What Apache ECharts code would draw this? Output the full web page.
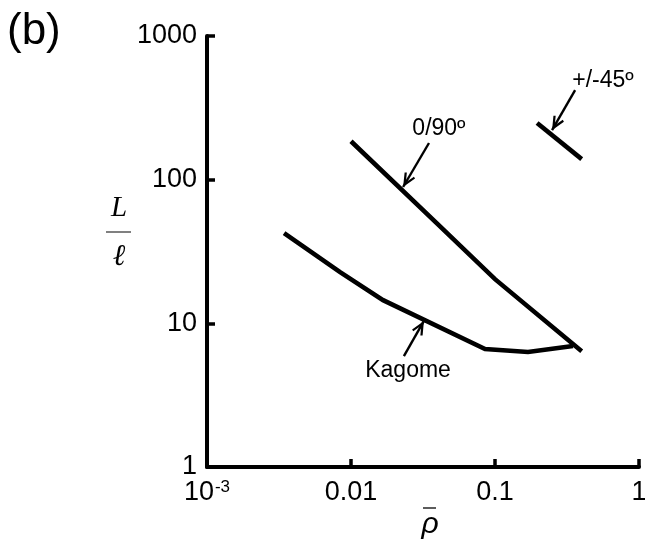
<!DOCTYPE html>
<html>
<head>
<meta charset="utf-8">
<script src="https://cdn.jsdelivr.net/npm/echarts@6/dist/echarts.min.js"></script>
<style>
html,body{margin:0;padding:0;background:#fff;}
#c{width:645px;height:541px;}
</style>
</head>
<body>
<div id="c"></div>
<script>
// ---- data ----
const kagomeX = [0.00343, 0.0084, 0.0167, 0.0853, 0.1695, 0.348];
const kagomeY = [42.5, 22.7, 14.5, 6.63, 6.31, 6.95];
const cross090X = [0.01, 0.04, 0.1, 0.4];
const cross090Y = [185, 49, 20.3, 6.4];
const pm45X = [0.196, 0.4];
const pm45Y = [248, 139];

const xTickValues = [0.001, 0.01, 0.1, 1];
const xTickLabels = ['{b|10}{s|-3}', '0.01', '0.1', '1'];
const yTickValues = [1, 10, 100, 1000];
const yTickLabels = ['1', '10', '100', '1000'];

const annoTexts = ['0/90º', '+/-45º', 'Kagome'];
const annoTextPos = [[0.0408, 225], [0.562, 486], [0.0249, 4.66]];
const annoArrowFrom = [[0.0348, 180], [0.36, 420], [0.0233, 5.92]];
const annoArrowTo = [[0.0230, 88.9], [0.249, 221], [0.0321, 10.4]];

const panelLabel = '(b)';

// ---- chart ----
const chart = echarts.init(document.getElementById('c'), null, {renderer: 'canvas'});
const FONT = 'Liberation Sans, Arial, sans-serif';

function zip(xs, ys) { return xs.map((x, i) => [x, ys[i]]); }
function decadeIndex(v, first) { return Math.round(Math.log10(v)) - Math.round(Math.log10(first)); }

const chevron = 'path://M0,12L5,23L3.4,23.9L0,16.6L-3.4,23.9L-5,23Z M-12,0L-11.99,0.01L-12,0.02Z M12,24L11.99,23.99L12,23.98Z';

function arrowLine(i) {
  return {
    silent: true,
    symbol: ['none', chevron],
    symbolSize: 29,
    label: {show: false},
    lineStyle: {color: '#000', width: 2.4, type: 'solid'},
    emphasis: {disabled: true},
    data: [[{coord: annoArrowFrom[i]}, {coord: annoArrowTo[i]}]]
  };
}
function annoPoint(i) {
  return {
    silent: true,
    symbol: 'circle',
    symbolSize: 1,
    itemStyle: {color: 'rgba(0,0,0,0)'},
    label: {show: true, position: 'inside', color: '#000', fontSize: 23, fontFamily: FONT, formatter: annoTexts[i]},
    data: [{coord: annoTextPos[i]}]
  };
}
function lineSeries(name, xs, ys, i) {
  return {
    name: name,
    type: 'line',
    data: zip(xs, ys),
    showSymbol: false,
    symbol: 'none',
    lineStyle: {color: '#000', width: 4.6, cap: 'butt', join: 'miter'},
    silent: true,
    markLine: arrowLine(i),
    markPoint: annoPoint(i)
  };
}

const option = {
  animation: false,
  backgroundColor: '#fff',
  grid: {left: 207, right: 6, top: 36, bottom: 74, containLabel: false, outerBoundsMode: 'none'},
  xAxis: {
    type: 'log', logBase: 10, min: 0.001, max: 1,
    axisLine: {show: true, lineStyle: {color: '#000', width: 4}},
    axisTick: {show: true, inside: true, length: 8, lineStyle: {color: '#000', width: 3.5}},
    minorTick: {show: false},
    splitLine: {show: false},
    axisLabel: {
      margin: 12, color: '#000', fontSize: 27, fontFamily: FONT,
      formatter: v => xTickLabels[decadeIndex(v, xTickValues[0])],
      rich: {
        b: {fontSize: 27, fontFamily: FONT, color: '#000', lineHeight: 27},
        s: {fontSize: 17, fontFamily: FONT, color: '#000', lineHeight: 17, verticalAlign: 'top', padding: [0, 0, 0, 1]}
      }
    }
  },
  yAxis: {
    type: 'log', logBase: 10, min: 1, max: 1000,
    axisLine: {show: true, lineStyle: {color: '#000', width: 4}},
    axisTick: {show: true, inside: true, length: 8, lineStyle: {color: '#000', width: 3.5}},
    minorTick: {show: false},
    splitLine: {show: false},
    axisLabel: {
      margin: 10, color: '#000', fontSize: 27, fontFamily: FONT, padding: [0, 0, 6, 0],
      formatter: v => yTickLabels[decadeIndex(v, yTickValues[0])]
    }
  },
  series: [
    lineSeries('0/90', cross090X, cross090Y, 0),
    lineSeries('+/-45', pm45X, pm45Y, 1),
    lineSeries('Kagome', kagomeX, kagomeY, 2)
  ],
  graphic: [
    {type: 'text', left: 7, top: 10, style: {text: panelLabel, fontSize: 44, fontFamily: FONT, fill: '#000'}},
    // y axis title: L over ell
    {type: 'text', x: 119, y: 208, style: {text: 'L', fontSize: 29, fontStyle: 'italic', fontFamily: 'Liberation Serif, Times New Roman, serif', fill: '#000', align: 'center', verticalAlign: 'middle'}},
    {type: 'line', shape: {x1: 106, y1: 232, x2: 131, y2: 232}, style: {stroke: '#808080', lineWidth: 2}},
    {type: 'text', x: 119, y: 257, style: {text: 'ℓ', fontSize: 30, fontStyle: 'italic', fontFamily: 'Liberation Serif, DejaVu Serif, serif', fill: '#000', align: 'center', verticalAlign: 'middle'}},
    // x axis title: rho bar
    {type: 'line', shape: {x1: 423, y1: 508, x2: 436, y2: 508}, style: {stroke: '#333', lineWidth: 1.6}},
    {type: 'text', x: 430, y: 525, style: {text: 'ρ', fontSize: 30, fontStyle: 'italic', fontFamily: FONT, fill: '#000', align: 'center', verticalAlign: 'middle'}}
  ]
};
chart.setOption(option);
</script>
</body>
</html>
